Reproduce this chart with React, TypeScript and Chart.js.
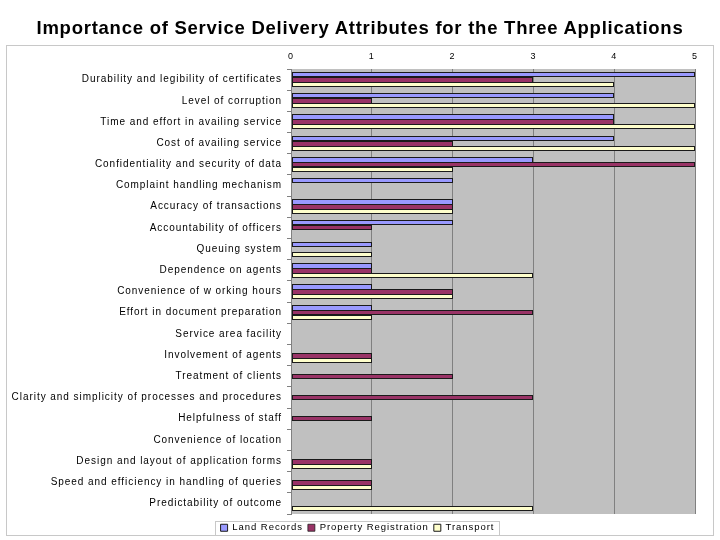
import React, { useEffect, useRef } from "react";
import { Chart, registerables } from "chart.js";

Chart.register(...registerables);

const TITLE = "Importance of Service Delivery Attributes for the Three Applications";

const categories = [
  "Durability and legibility of certificates",
  "Level of corruption",
  "Time and effort in availing service",
  "Cost of availing service",
  "Confidentiality and security of data",
  "Complaint handling mechanism",
  "Accuracy of transactions",
  "Accountability of officers",
  "Queuing system",
  "Dependence on agents",
  "Convenience of w orking hours",
  "Effort in document preparation",
  "Service area facility",
  "Involvement of agents",
  "Treatment of clients",
  "Clarity and simplicity of processes and procedures",
  "Helpfulness of staff",
  "Convenience of location",
  "Design and layout of application forms",
  "Speed and efficiency in handling of queries",
  "Predictability of outcome",
];

const landRecords = [5, 4, 4, 4, 3, 2, 2, 2, 1, 1, 1, 1, 0, 0, 0, 0, 0, 0, 0, 0, 0];
const propertyRegistration = [3, 1, 4, 2, 5, 0, 2, 1, 0, 1, 2, 3, 0, 1, 2, 3, 1, 0, 1, 1, 0];
const transport = [4, 5, 5, 5, 2, 0, 2, 0, 1, 3, 2, 1, 0, 1, 0, 0, 0, 0, 1, 1, 3];

const seriesNames = ["Land Records", "Property Registration", "Transport"];
const seriesColors = ["#9999FF", "#993366", "#FFFFCC"];
const xMin = 0;
const xMax = 5;
const xStep = 1;

const allSeries = [landRecords, propertyRegistration, transport];

const SPACING = "0.95px";
const LEGEND_DX = 10;
const LEGEND_DY = 4;

const spacingPlugin = {
  id: "spacing",
  beforeLayout(chart: any) {
    chart.ctx.letterSpacing = SPACING;
  },
  afterUpdate(chart: any) {
    const lg = chart.legend;
    if (!lg) return;
    lg.left += LEGEND_DX;
    lg.right += LEGEND_DX;
    lg.top += LEGEND_DY;
    lg.bottom += LEGEND_DY;
    (lg.legendHitBoxes || []).forEach((h: any) => {
      h.left += LEGEND_DX;
      h.top += LEGEND_DY;
    });
  },
  beforeDraw(chart: any) {
    const { ctx, chartArea, width, height } = chart;
    ctx.save();
    ctx.letterSpacing = "0px";
    ctx.fillStyle = "#FFFFFF";
    ctx.fillRect(0, 0, width, height);
    ctx.strokeStyle = "#C8C8C8";
    ctx.lineWidth = 1;
    ctx.strokeRect(6.5, 45.5, 707, 490);
    ctx.fillStyle = "#C0C0C0";
    ctx.fillRect(chartArea.left, chartArea.top, chartArea.right - chartArea.left, chartArea.bottom - chartArea.top);
    ctx.restore();
    ctx.letterSpacing = SPACING;
  },
  beforeDatasetsDraw(chart: any) {
    // snap bar geometry (computed by the scales) to whole pixels for crisp edges
    chart.data.datasets.forEach((_: any, di: number) => {
      const meta = chart.getDatasetMeta(di);
      meta.data.forEach((el: any) => {
        el.y = Math.floor(el.y) + 0.5;
        el.height = Math.round(el.height);
        el.x = Math.round(el.x);
        el.base = Math.round(el.base);
      });
    });
  },
  afterDraw(chart: any) {
    const lg = chart.legend;
    if (!lg || !lg.legendHitBoxes || !lg.legendHitBoxes.length) return;
    const boxes = lg.legendHitBoxes;
    let l = Infinity, r = -Infinity, t = Infinity, b = -Infinity;
    boxes.forEach((h: any) => {
      l = Math.min(l, h.left);
      r = Math.max(r, h.left + h.width);
      t = Math.min(t, h.top);
      b = Math.max(b, h.top + h.height);
    });
    const ctx = chart.ctx;
    ctx.save();
    ctx.strokeStyle = "#C8C8C8";
    ctx.lineWidth = 1;
    ctx.strokeRect(Math.round(l - 6) + 0.5, Math.round(t - 2) + 0.5, Math.round(r - l + 10), Math.round(b - t + 4));
    ctx.restore();
  },
};

export default function App() {
  const ref = useRef<HTMLCanvasElement>(null);

  useEffect(() => {
    if (!ref.current) return;
    const chart = new Chart(ref.current, {
      type: "bar",
      data: {
        labels: categories,
        datasets: allSeries.map((d, i) => ({
          label: seriesNames[i],
          data: d,
          backgroundColor: seriesColors[i],
          borderColor: "#1A1A1A",
          borderWidth: (c: any) => {
            const di = c.datasetIndex;
            const idx = c.dataIndex;
            if (di === undefined || idx === undefined) return 1;
            const v = allSeries[di][idx];
            const nextSeries = allSeries[di + 1];
            const nx = nextSeries ? nextSeries[idx] : 0;
            return { top: 1, left: 1, right: 1, bottom: nx > 0 && nx >= v ? 0 : 1 };
          },
          borderSkipped: false,
          barPercentage: 1,
          categoryPercentage: 0.71,
        })),
      },
      options: {
        indexAxis: "y",
        responsive: false,
        animation: false,
        layout: { padding: { top: 45, left: 0, right: 25, bottom: 1.5 } },
        plugins: {
          title: { display: false },
          tooltip: { enabled: false },
          legend: {
            position: "bottom",
            labels: {
              boxWidth: 7,
              boxHeight: 7,
              padding: 5,
              color: "#000000",
              font: { family: "'Liberation Sans', Arial, sans-serif", size: 9.5 },
            },
          },
        },
        scales: {
          x: {
            position: "top",
            min: xMin,
            max: xMax,
            ticks: {
              stepSize: xStep,
              padding: 7,
              color: "#000000",
              font: { family: "'Liberation Sans', Arial, sans-serif", size: 9 },
            },
            grid: { color: "#808080", lineWidth: 1, drawTicks: false },
            border: { display: false },
            afterFit: (s: any) => {
              s.height = 24;
            },
          },
          y: {
            ticks: {
              padding: 5,
              color: "#000000",
              autoSkip: false,
              font: { family: "'Liberation Sans', Arial, sans-serif", size: 10 },
            },
            grid: { drawOnChartArea: false, offset: true, tickLength: 4, color: "#808080" },
            border: { display: true, color: "#808080" },
            afterFit: (s: any) => {
              s.width = 291;
            },
          },
        },
      },
      plugins: [spacingPlugin],
    } as any);
    return () => chart.destroy();
  }, []);

  return (
    <div style={{ position: "fixed", left: 0, top: 0, width: 720, height: 540, background: "#fff" }}>
      <canvas ref={ref} width={720} height={540} style={{ position: "absolute", left: 0, top: 0, width: 720, height: 540 }} />
      <div
        style={{
          position: "absolute",
          left: 0,
          top: 18,
          width: 720,
          textAlign: "center",
          font: "bold 18.5px 'Liberation Sans', Arial, sans-serif",
          letterSpacing: "0.75px",
          lineHeight: "20px",
          color: "#000",
        }}
      >
        {TITLE}
      </div>
    </div>
  );
}
